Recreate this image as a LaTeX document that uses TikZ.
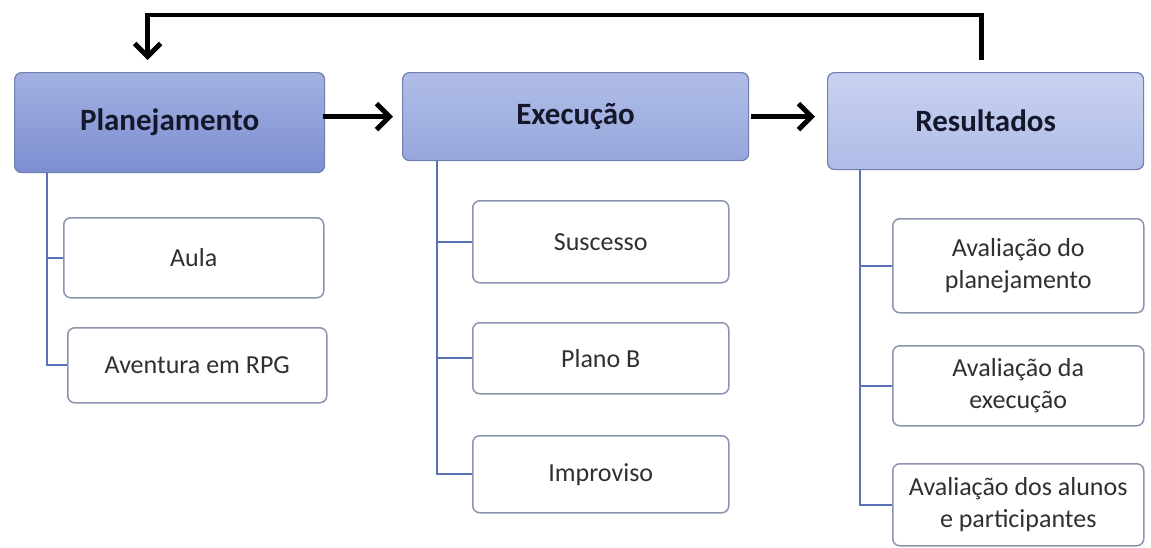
\documentclass[tikz,border=0pt]{standalone}
\usepackage{fontspec}
\setmainfont{Carlito}
\usetikzlibrary{arrows.meta}

\definecolor{headline}{HTML}{6F7FB0}
\definecolor{itemline}{HTML}{8A94AE}
\definecolor{treeblue}{HTML}{5A72B8}
\definecolor{headtext}{HTML}{15182A}
\definecolor{itemtext}{HTML}{303030}

\tikzset{
    headbox/.style={draw=headline, line width=1.2pt, rounded corners=7pt, anchor=north west, inner sep=0pt,
        font=\fontsize{31}{36}\selectfont\bfseries, text=headtext},
    itembox/.style={draw=itemline, line width=1.5pt, rounded corners=7pt, anchor=north west, inner sep=0pt,
        fill=white, align=center, font=\fontsize{26}{32}\selectfont, text=itemtext},
    tree/.style={draw=treeblue, line width=1.6pt},
    flow/.style={line width=4.8pt, -{Straight Barb[length=13pt,width=26pt,line width=5pt]}},
}

\begin{document}
\begin{tikzpicture}[x=1pt,y=1pt,yscale=-1,xscale=1]
    \useasboundingbox[fill=white] (0,0) rectangle (1151,547);

    % main stages
    \node [headbox, top color={rgb,255:red,163;green,176;blue,225}, bottom color={rgb,255:red,124;green,142;blue,209}, minimum width=310pt, minimum height=100pt] (plan) at (14,72) {Planejamento};
    \node [headbox, top color={rgb,255:red,176;green,189;blue,231}, bottom color={rgb,255:red,151;green,167;blue,221}, minimum width=346pt, minimum height=88pt] (exec) at (402,72) {Execução};
    \node [headbox, top color={rgb,255:red,202;green,210;blue,241}, bottom color={rgb,255:red,175;green,188;blue,231}, minimum width=316pt, minimum height=97pt] (res) at (827,72) {Resultados};

    % Planejamento items
    \node [itembox, minimum width=260pt, minimum height=80pt] (aula) at (63,217) {Aula};
    \node [itembox, minimum width=259pt, minimum height=75pt] (rpg) at (67,327) {Aventura em RPG};

    % Execucao items
    \node [itembox, minimum width=256pt, minimum height=82pt] (suc) at (472,200) {Suscesso};
    \node [itembox, minimum width=256pt, minimum height=71pt] (planob) at (472,322) {Plano B};
    \node [itembox, minimum width=256pt, minimum height=77pt] (impr) at (472,435) {Improviso};

    % Resultados items
    \node [itembox, minimum width=251pt, minimum height=94pt] (avplan) at (892,218) {Avaliação do\\planejamento};
    \node [itembox, minimum width=251pt, minimum height=80pt] (avexec) at (892,345) {Avaliação da\\execução};
    \node [itembox, minimum width=251pt, minimum height=82pt] (avalunos) at (892,463) {Avaliação dos alunos\\e participantes};

    % tree lines
    \draw [tree] ([xshift=33pt]plan.south west) |- (aula.west);
    \draw [tree] ([xshift=33pt]plan.south west) |- (rpg.west);
    \draw [tree] ([xshift=35pt]exec.south west) |- (suc.west);
    \draw [tree] ([xshift=35pt]exec.south west) |- (planob.west);
    \draw [tree] ([xshift=35pt]exec.south west) |- (impr.west);
    \draw [tree] ([xshift=33pt]res.south west) |- (avplan.west);
    \draw [tree] ([xshift=33pt]res.south west) |- (avexec.west);
    \draw [tree] ([xshift=33pt]res.south west) |- (avalunos.west);

    % flow arrows
    \coordinate (loop) at (0,15);
    \draw [flow, shorten <=-2pt, shorten >=9pt] (plan.east |- exec.west) -- (exec.west);
    \draw [flow, shorten <=2pt, shorten >=12pt] (exec.east) -- (res.west |- exec.east);
    \draw [flow, shorten <=12pt, shorten >=12pt] ([xshift=-4pt]res.north) -- ([xshift=-4pt]res.north |- loop) -| ([xshift=-22pt]plan.north);

\end{tikzpicture}
\end{document}
